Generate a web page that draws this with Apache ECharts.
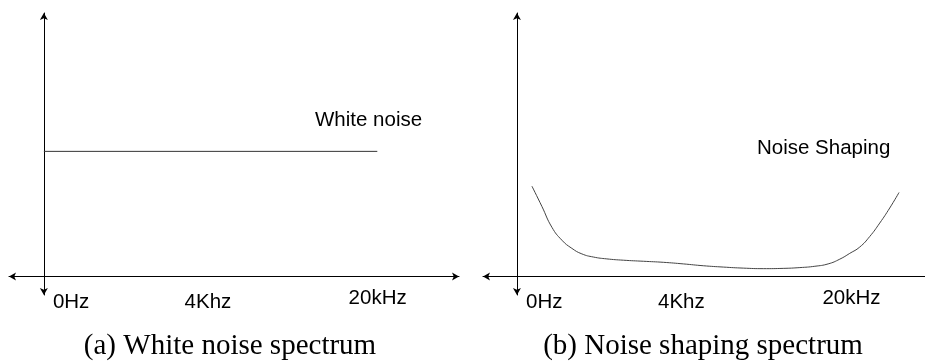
<!DOCTYPE html>
<html>
<head>
<meta charset="utf-8">
<script src="https://cdn.jsdelivr.net/npm/echarts@6/dist/echarts.min.js"></script>
<style>
  html, body { margin: 0; padding: 0; background: #fff; }
  #chart { width: 925px; height: 362px; }
</style>
</head>
<body>
<div id="chart"></div>
<script>
// Schematic frequency positions (axis units) and their labels
const tickPos = [0.82, 4.94, 10.05];
const tickText = ['0Hz', '4Khz', '20kHz'];

// (a) flat white-noise level across the band
const whiteX = [0, 10.04];
const whiteY = [4.75, 4.75];

// (b) shaped noise: high at both band edges, low in the middle
const shapedX = [0.45, 0.75, 1.05, 1.35, 1.65, 1.95, 2.30, 2.70, 3.20, 3.80, 4.40, 5.00, 5.60, 6.20, 6.80, 7.40, 8.00, 8.50, 8.95, 9.35, 9.70, 10.00, 10.30, 10.60, 10.90, 11.20, 11.48];
const shapedY = [3.43, 2.66, 1.87, 1.38, 1.07, 0.86, 0.74, 0.67, 0.62, 0.58, 0.54, 0.48, 0.41, 0.36, 0.32, 0.30, 0.31, 0.34, 0.39, 0.48, 0.66, 0.88, 1.12, 1.52, 2.03, 2.60, 3.19];

const captions = ['(a) White noise spectrum', '(b) Noise shaping spectrum'];
const curveNames = ['White noise', 'Noise Shaping'];

const sans = 'Liberation Sans, Arial, sans-serif';
const serif = 'Liberation Serif, Times New Roman, serif';
const labelSize = 20.5;

function pairs(xs, ys) { return xs.map((x, i) => [x, ys[i]]); }

function xAxis(gridIndex, min, max, symbols) {
  return {
    type: 'value', gridIndex, min, max,
    axisLine: { show: true, onZero: true, symbol: symbols, symbolSize: [6, 7],
                lineStyle: { color: '#000', width: 1 } },
    axisTick: { show: false },
    splitLine: { show: false },
    axisLabel: {
      show: true, customValues: tickPos, margin: -4,
      color: '#000', fontFamily: sans, fontSize: labelSize,
      formatter: v => {
        const i = tickPos.indexOf(v);
        const t = i >= 0 ? tickText[i] : '';
        return i === 2 ? '{up|' + t + '}' : '{n|' + t + '}';
      },
      rich: {
        n: { fontFamily: sans, fontSize: labelSize, lineHeight: 22, color: '#000' },
        up: { fontFamily: sans, fontSize: labelSize, lineHeight: 14, color: '#000' }
      }
    }
  };
}

function yAxis(gridIndex) {
  return {
    type: 'value', gridIndex, min: -0.7, max: 10,
    axisLine: { show: true, onZero: true, symbol: ['arrow', 'arrow'], symbolSize: [6, 7],
                lineStyle: { color: '#000', width: 1 } },
    axisTick: { show: false },
    axisLabel: { show: false },
    splitLine: { show: false }
  };
}

const captionStyle = { fontFamily: serif, fontSize: 29, fontWeight: 'normal', color: '#000' };

const chart = echarts.init(document.getElementById('chart'), null, { renderer: 'canvas' });
chart.setOption({
  animation: false,
  backgroundColor: '#fff',
  title: [
    { text: captions[0], left: 230, top: 332, textAlign: 'center', padding: 0, textStyle: captionStyle },
    { text: captions[1], left: 703, top: 332, textAlign: 'center', padding: 0, textStyle: captionStyle }
  ],
  grid: [
    { left: 9, right: 466, top: 13, bottom: 67 },
    { left: 483, right: 0, top: 13, bottom: 67 }
  ],
  xAxis: [xAxis(0, -1.05, 12.5, ['arrow', 'arrow']), xAxis(1, -1.02, 12.26, ['arrow', 'none'])],
  yAxis: [yAxis(0), yAxis(1)],
  graphic: [
    { type: 'text', left: 315, top: 110,
      style: { text: curveNames[0], font: labelSize + 'px ' + sans, fill: '#000' } },
    { type: 'text', left: 757, top: 138,
      style: { text: curveNames[1], font: labelSize + 'px ' + sans, fill: '#000' } }
  ],
  series: [
    { type: 'line', xAxisIndex: 0, yAxisIndex: 0, data: pairs(whiteX, whiteY),
      symbol: 'none', lineStyle: { color: '#333', width: 1 } },
    { type: 'line', xAxisIndex: 1, yAxisIndex: 1, data: pairs(shapedX, shapedY),
      symbol: 'none', smooth: 0.5, lineStyle: { color: '#444', width: 1 } }
  ]
});
</script>
</body>
</html>
